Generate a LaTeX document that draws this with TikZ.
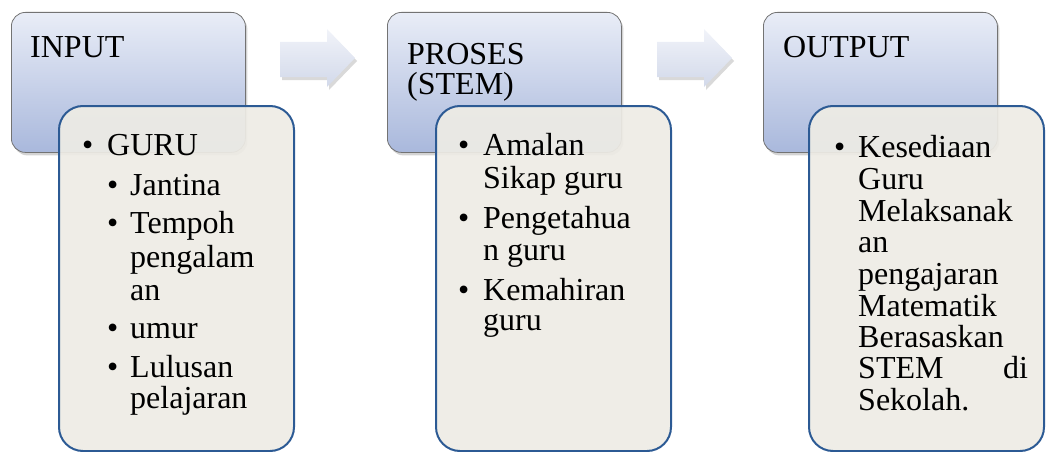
\documentclass[tikz,border=0pt]{standalone}
\usepackage{fontspec}
\setmainfont{Liberation Serif}
\usetikzlibrary{shadows}

\definecolor{hdrtop}{HTML}{E9EDF7}
\definecolor{hdrbot}{HTML}{A9B8DC}
\definecolor{bdyfill}{HTML}{EEECE5}
\definecolor{bdyline}{HTML}{2C5A94}
\definecolor{arrtop}{HTML}{F1F3F9}
\definecolor{arrbot}{HTML}{D2D9EA}

\tikzset{
  hdr/.style={rectangle, rounded corners=14pt, draw=black!55, line width=0.8pt,
    top color=hdrtop, bottom color=hdrbot, minimum width=234pt, minimum height=140pt,
    anchor=north west, inner sep=0pt,
    drop shadow={shadow xshift=2pt, shadow yshift=-3pt, opacity=0.35}},
  bdy/.style={rectangle, rounded corners=24pt, draw=bdyline, line width=2pt,
    fill=bdyfill, fill opacity=0.92, minimum width=235pt, minimum height=345pt,
    anchor=north west, inner sep=0pt},
  blk/.style={top color=arrtop, bottom color=arrbot,
    drop shadow={shadow xshift=2pt, shadow yshift=-3pt, opacity=0.3}},
  txt/.style={anchor=base west, inner sep=0pt, font=\fontsize{32}{32}\selectfont}
}

\begin{document}
\begin{tikzpicture}[x=1pt, y=-1pt]
\useasboundingbox (0,0) rectangle (1054,452);

% header boxes
\node[hdr] (hin)  at (11,12)  {};
\node[hdr] (hpro) at (387,12) {};
\node[hdr] (hout) at (763,12) {};

% block arrows between the headers
\foreach \x in {280, 657} {
    \path[blk] (\x,42) -- (\x+47,42) -- (\x+47,29) -- (\x+75,58)
        -- (\x+47,87) -- (\x+47,77) -- (\x,77) -- cycle;
}

% body boxes (on top of the headers)
\node[bdy] (bin)  at (58,105)  {};
\node[bdy] (bpro) at (435,105) {};
\node[bdy] (bout) at (808,105) {};

% header titles
\node[txt] (tin)   at (30,58)  {INPUT};
\node[txt] (tpro)  at (407,64) {PROSES};
\node[txt] (tstem) at (407,94) {(STEM)};
\node[txt] (tout)  at (783,58) {OUTPUT};

% input list
\foreach \x/\y/\t [count=\i] in {82/155/\textbullet, 107/155/GURU,
    107/195/\textbullet, 130/195/Jantina,
    107/233/\textbullet, 130/233/Tempoh, 130/267/pengalam, 130/300/an,
    107/338/\textbullet, 130/338/umur,
    107/377/\textbullet, 130/377/Lulusan, 130/408/pelajaran} {
    \node[txt] (li-\i) at (\x,\y) {\t};
}

% proses list
\foreach \x/\y/\t [count=\i] in {458/155/\textbullet, 483/155/Amalan, 483/188/Sikap guru,
    458/228/\textbullet, 483/228/Pengetahua, 483/260/n guru,
    458/300/\textbullet, 483/300/Kemahiran, 483/330/guru} {
    \node[txt] (lp-\i) at (\x,\y) {\t};
}

% output list
\foreach \x/\y/\t [count=\i] in {834/157/\textbullet, 858/157/Kesediaan, 858/189/Guru,
    858/221/Melaksanak, 858/252/an, 858/284/pengajaran, 858/316/Matematik,
    858/347/Berasaskan, 858/378/STEM, 1003/378/di, 858/410/Sekolah.} {
    \node[txt] (lo-\i) at (\x,\y) {\t};
}
\end{tikzpicture}
\end{document}
